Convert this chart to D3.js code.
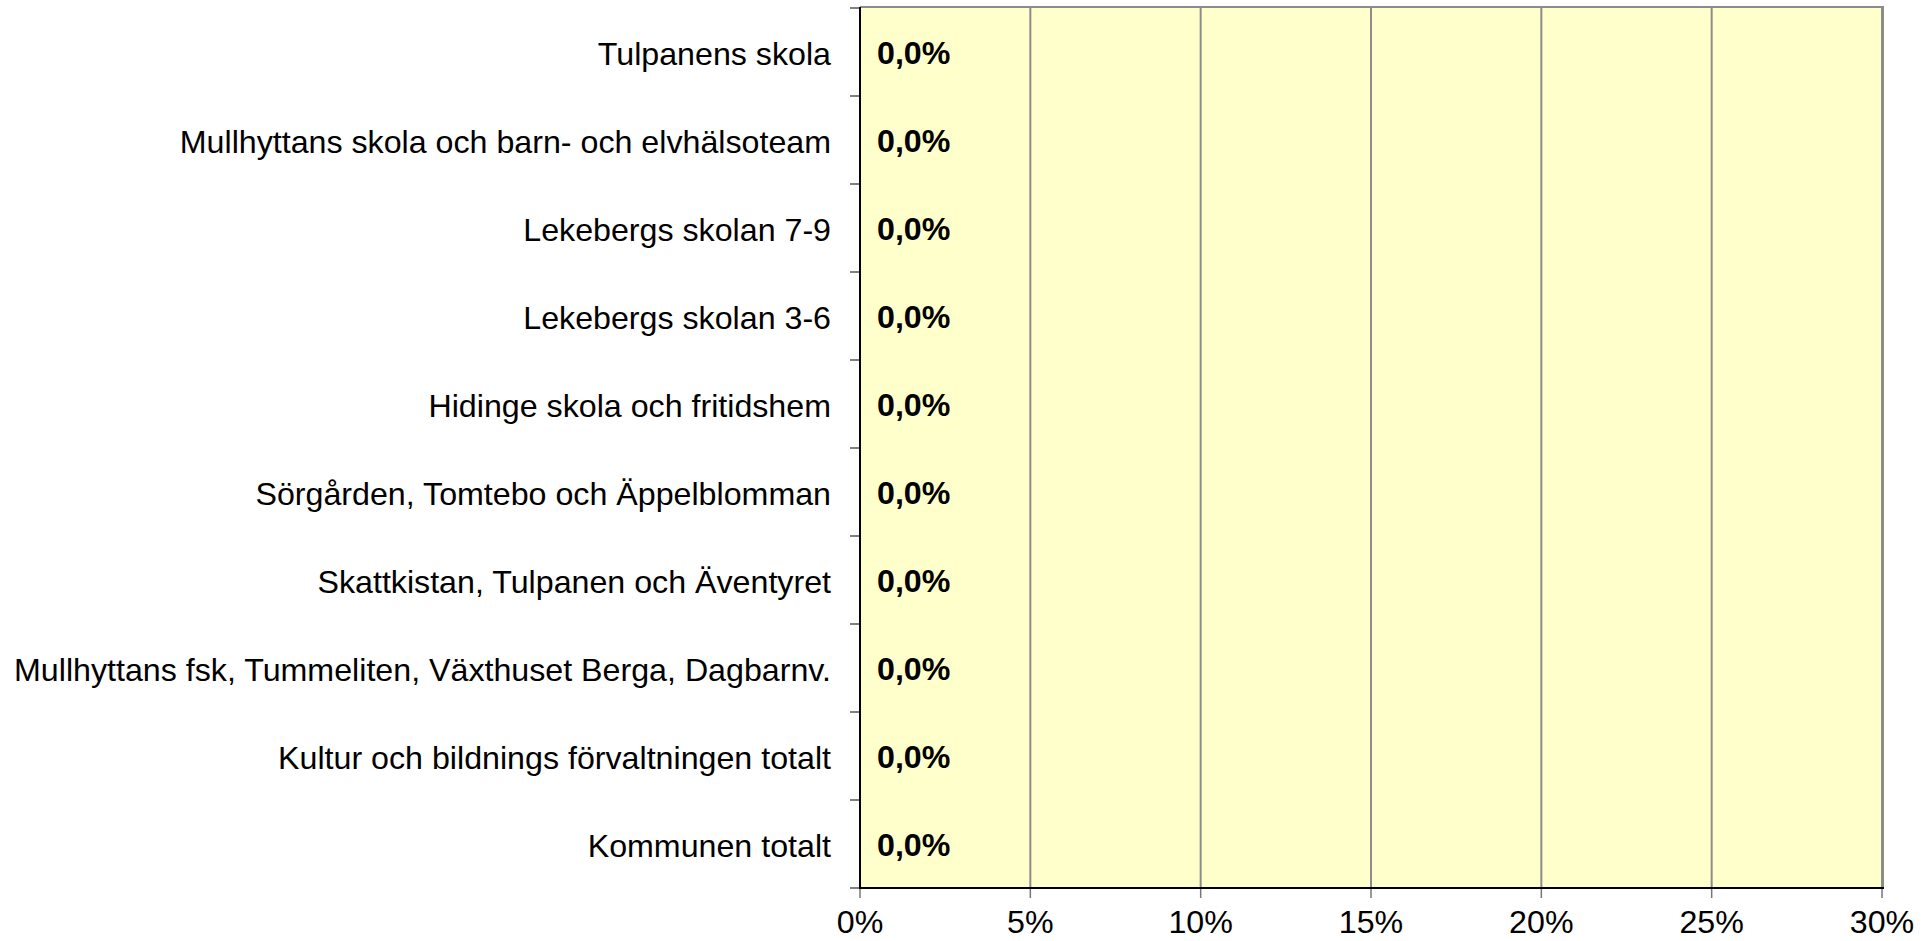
<!DOCTYPE html>
<html>
<head>
<meta charset="utf-8">
<script src="https://cdn.jsdelivr.net/npm/d3@7/dist/d3.min.js"></script>
<style>
  html, body { margin: 0; padding: 0; background: #ffffff; }
  svg { display: block; }
  text { font-family: "Liberation Sans", Arial, sans-serif; fill: #000; }
</style>
</head>
<body>
<svg id="chart" width="1932" height="941"></svg>
<script>
// Units, top to bottom
const categories = [
  "Tulpanens skola",
  "Mullhyttans skola och barn- och elvhälsoteam",
  "Lekebergs skolan 7-9",
  "Lekebergs skolan 3-6",
  "Hidinge skola och fritidshem",
  "Sörgården, Tomtebo och Äppelblomman",
  "Skattkistan, Tulpanen och Äventyret",
  "Mullhyttans fsk, Tummeliten, Växthuset Berga, Dagbarnv.",
  "Kultur och bildnings förvaltningen totalt",
  "Kommunen totalt"
];
// Share per unit (fraction)
const values = [0, 0, 0, 0, 0, 0, 0, 0, 0, 0];
// X axis ticks
const xTicks = [0, 0.05, 0.10, 0.15, 0.20, 0.25, 0.30];
const xTickLabels = ["0%", "5%", "10%", "15%", "20%", "25%", "30%"];

const margin = { left: 860, right: 50, top: 8, bottom: 53 };
const W = 1932, H = 941;
const fontSize = "32.2px";
const svg = d3.select("#chart");

const x = d3.scaleLinear().domain([0, 0.30]).range([margin.left, W - margin.right]);
const y = d3.scaleBand().domain(categories).range([margin.top, H - margin.bottom]).paddingInner(0.3).paddingOuter(0.15);
const yEdges = d3.scaleLinear().domain([0, categories.length]).range([margin.top, H - margin.bottom]);

const x0 = x(0), x1 = x(0.30), y0 = margin.top, y1 = H - margin.bottom;

// plot background
svg.append("rect")
  .attr("x", x0).attr("y", y0)
  .attr("width", x1 - x0).attr("height", y1 - y0)
  .attr("fill", "#FFFFCC");

// vertical gridlines
svg.append("g")
  .selectAll("line")
  .data(xTicks.slice(1, -1))
  .join("line")
  .attr("x1", d => x(d)).attr("x2", d => x(d))
  .attr("y1", y0).attr("y2", y1)
  .attr("stroke", "#8c8c8c").attr("stroke-width", 2);

// plot border: top and right in gray
svg.append("line").attr("x1", x0).attr("x2", x1 + 1.5).attr("y1", y0 - 1).attr("y2", y0 - 1)
  .attr("stroke", "#8c8c8c").attr("stroke-width", 2);
svg.append("line").attr("x1", x1 + 0.5).attr("x2", x1 + 0.5).attr("y1", y0 - 2).attr("y2", y1)
  .attr("stroke", "#8c8c8c").attr("stroke-width", 3);

// bars
svg.append("g")
  .selectAll("rect")
  .data(values)
  .join("rect")
  .attr("x", x(0))
  .attr("y", (d, i) => y(categories[i]))
  .attr("width", d => x(d) - x(0))
  .attr("height", y.bandwidth())
  .attr("fill", "#9999FF");

// data labels
svg.append("g")
  .selectAll("text")
  .data(values)
  .join("text")
  .attr("x", (d) => x(d) + 17)
  .attr("y", (d, i) => y(categories[i]) + y.bandwidth() / 2)
  .attr("dy", "0.38em")
  .attr("font-size", fontSize)
  .attr("font-weight", "bold")
  .text(d => d3.format(".1f")(d * 100).replace(".", ",") + "%");

// y axis: ticks at band edges
svg.append("g")
  .selectAll("line")
  .data(d3.range(categories.length + 1))
  .join("line")
  .attr("x1", x0 - 10).attr("x2", x0)
  .attr("y1", d => yEdges(d)).attr("y2", d => yEdges(d))
  .attr("stroke", "#555").attr("stroke-width", 1.5);

// category labels
svg.append("g")
  .selectAll("text")
  .data(categories)
  .join("text")
  .attr("x", x0 - 29)
  .attr("y", d => y(d) + y.bandwidth() / 2)
  .attr("dy", "0.4em")
  .attr("text-anchor", "end")
  .attr("font-size", fontSize)
  .text(d => d);

// x axis ticks
svg.append("g")
  .selectAll("line")
  .data(xTicks)
  .join("line")
  .attr("x1", d => x(d)).attr("x2", d => x(d))
  .attr("y1", y1).attr("y2", y1 + 10)
  .attr("stroke", "#777").attr("stroke-width", 1.5);

svg.append("g")
  .selectAll("text")
  .data(xTicks)
  .join("text")
  .attr("x", d => x(d))
  .attr("y", 933)
  .attr("text-anchor", "middle")
  .attr("font-size", fontSize)
  .text((d, i) => xTickLabels[i]);

// axis lines
svg.append("line").attr("x1", x0).attr("x2", x0).attr("y1", y0 - 1).attr("y2", y1 + 1)
  .attr("stroke", "#000").attr("stroke-width", 2);
svg.append("line").attr("x1", x0 - 1).attr("x2", x1 + 2).attr("y1", y1).attr("y2", y1)
  .attr("stroke", "#000").attr("stroke-width", 2);
</script>
</body>
</html>
